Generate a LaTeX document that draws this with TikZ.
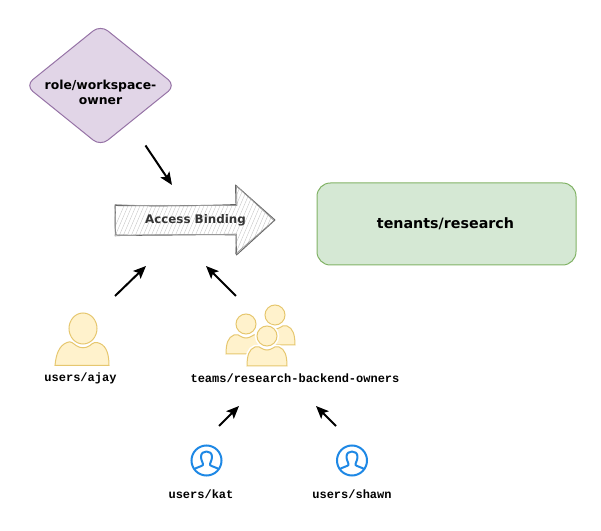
\documentclass[tikz,border=0pt]{standalone}
\usepackage{fontspec}
\setmainfont{DejaVu Sans}
\newfontfamily\monof{Liberation Mono}
\usetikzlibrary{arrows.meta}
\definecolor{purpF}{HTML}{E1D5E7}
\definecolor{purpD}{HTML}{9673A6}
\definecolor{greenF}{HTML}{D5E8D4}
\definecolor{greenD}{HTML}{82B366}
\definecolor{yelF}{HTML}{FFF2CC}
\definecolor{yelD}{HTML}{E6C76F}
\definecolor{blueU}{HTML}{1E88E5}
\tikzset{
  flow/.style={draw=black,line width=1.5pt,-{Stealth[length=9.5pt,width=8pt,inset=2pt]}},
  lab/.style={font=\monof\bfseries\fontsize{9}{11}\selectfont,text=black,inner sep=0pt},
  bigl/.style={font=\bfseries\fontsize{9.3}{11.4}\selectfont,text=black,align=center,inner sep=0pt},
  yelperson/.style={fill=yelF,draw=yelD,line width=0.75pt},
  bluel/.style={draw=blueU,line width=1.5pt,fill=none},
}
\newcommand{\personshape}[3]{%
  \begin{scope}[shift={(#1,#2)},scale=#3]
    \path[yelperson] (-28,37) .. controls (-27,26) and (-24,17) .. (-16,14)
      .. controls (-12,12) and (-10,15) .. (-7,17)
      .. controls (-3,20) and (3,20) .. (7,17)
      .. controls (10,14) and (13,13) .. (17,15)
      .. controls (24,18) and (26,27) .. (26,37) -- cycle;
    \path[yelperson] (0,0) ellipse (14 and 15.5);
  \end{scope}}
% team member: x, y of the head centre, then extra options
\newcommand{\teamperson}[3][]{%
  \begin{scope}[shift={(#2,#3)}]
    \path[yelperson,#1] (-20,30) .. controls (-20,20) and (-18,13) .. (-12,11)
      .. controls (-9,10) and (-7,11) .. (-5,12.5)
      .. controls (-2,14.5) and (2,14.5) .. (5,12.5)
      .. controls (7,11) and (9,10) .. (12,11)
      .. controls (18,13) and (20,20) .. (20,30) -- cycle;
    \path[yelperson,#1] (0,0) circle (10);
  \end{scope}}
\newcommand{\blueuser}[2]{%
  \begin{scope}[shift={(#1,#2)}]
    \draw[bluel] (0,0) circle (15);
    \begin{scope}
      \clip (0,0) circle (15);
      \draw[bluel,line join=round] (-13,9) .. controls (-9,6.5) and (-5,6) .. (-3.5,4.5)
        .. controls (-3,3) and (-5.5,0) .. (-5.5,-3.5)
        .. controls (-5.5,-7.5) and (-3,-9) .. (0,-9)
        .. controls (3,-9) and (5.5,-7.5) .. (5.5,-3.5)
        .. controls (5.5,0) and (3,3) .. (3.5,4.5)
        .. controls (5,6) and (9,6.5) .. (13,9);
    \end{scope}
  \end{scope}}
\begin{document}
\begin{tikzpicture}[x=0.75pt,y=-0.75pt]
\useasboundingbox (0,0) rectangle (601,531);
% diamond
\path[fill=purpF,draw=purpD,line width=0.75pt,rounded corners=7pt]
  (100.5,25) -- (175.5,85.5) -- (100.5,146) -- (25.5,85.5) -- cycle;
\node[bigl] (role) at (100.5,92) {role/workspace-\\owner};
% access arrow
\begin{scope}
  \clip (115,205) -- (236,205) -- (236,185) -- (275,220) -- (236,255) -- (236,235) -- (115,235) -- cycle;
  \foreach \i in {0,4,...,200} {
    \draw[gray!45,line width=0.3pt] (100+\i,262) -- (135+\i,180);
  }
\end{scope}
\draw[black!60,line width=0.7pt,line join=round]
  (115,205.5) .. controls (150,206) and (200,206) .. (236,204.5) -- (235.5,185) -- (275,220) -- (236.5,255) -- (236,235) .. controls (200,234) and (150,236) .. (116,235) .. controls (114,225) and (116,215) .. (115,205.5);
\draw[black!40,line width=0.5pt,line join=round]
  (115,204.5) .. controls (160,207) and (200,205) .. (237,205.5) -- (236.5,186) -- (274,220.5) -- (235.5,254) -- (236.5,234) .. controls (190,235.5) and (150,233.5) .. (115,236) .. controls (116,225) and (114.5,215) .. (115,204.5);
\node[font=\bfseries\fontsize{8.9}{11}\selectfont,text=black!80,inner sep=0pt] (binding) at (195.5,220) {Access Binding};
% tenant
\path[fill=greenF,draw=greenD,line width=0.75pt,rounded corners=10pt] (317,183) rectangle (576,265);
\node[font=\bfseries\fontsize{10.7}{13}\selectfont,text=black,inner sep=0pt] (tenant) at (445.5,224) {tenants/research};
% persons
\personshape{83}{328.5}{1}
\teamperson{275}{315}
\teamperson[draw=white,line width=2.5pt]{246}{324}
\teamperson{246}{324}
\teamperson[draw=white,line width=3.2pt]{267}{336}
\teamperson{267}{336}
\node[lab] (ajay) at (80.5,378) {users/ajay};
\node[lab] (team) at (295,378) {teams/research-backend-owners};
\blueuser{206.5}{460.5}
\blueuser{352}{460.5}
\node[lab] (kat) at (201,494.5) {users/kat};
\node[lab] (shawn) at (352,494.5) {users/shawn};
% connector ends
\coordinate (a1) at (145.5,145.5); \coordinate (a2) at (172,185);
\coordinate (b1) at (115,296); \coordinate (b2) at (146,266);
\coordinate (c1) at (236,296); \coordinate (c2) at (206,266);
\coordinate (d1) at (219,426); \coordinate (d2) at (239,406);
\coordinate (e1) at (336,426); \coordinate (e2) at (316,406);
\draw[flow] (a1) -- (a2);
\draw[flow] (b1) -- (b2);
\draw[flow] (c1) -- (c2);
\draw[flow] (d1) -- (d2);
\draw[flow] (e1) -- (e2);
\end{tikzpicture}
\end{document}
